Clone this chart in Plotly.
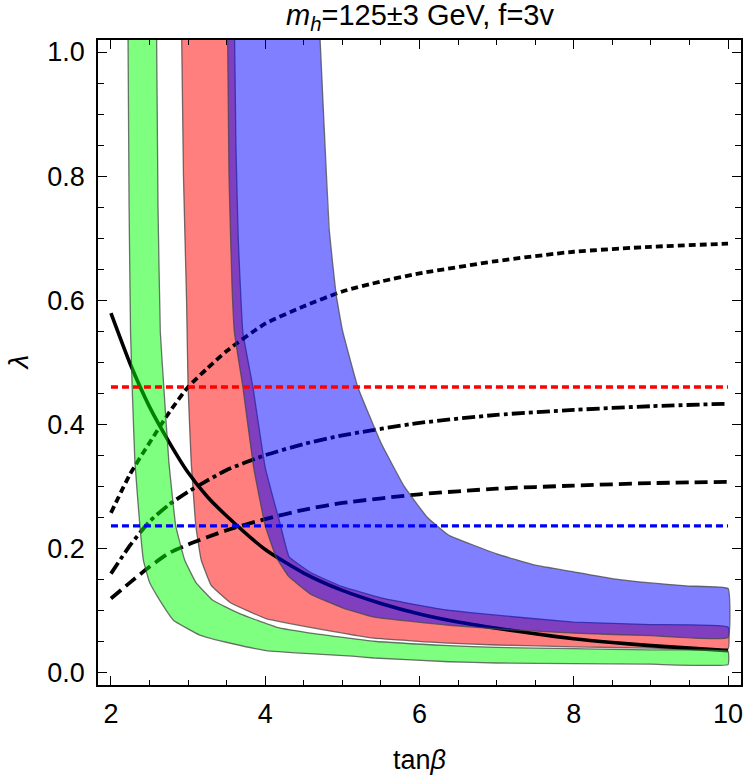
import plotly.graph_objects as go

# ---------------- data ----------------
# black solid curve
solid_x = [2.0, 2.25, 2.5, 2.75, 3.0, 3.25, 3.5, 4.0, 4.5, 5.0, 5.5, 6.0, 6.5, 7.0, 7.5, 8.0, 8.5, 9.0, 9.5, 10.0]
solid_y = [0.579, 0.497, 0.428, 0.372, 0.322, 0.283, 0.252, 0.198, 0.160, 0.132, 0.111, 0.094, 0.081, 0.071, 0.062, 0.054, 0.048, 0.043, 0.039, 0.035]

# black dotted curve
dot_x = [2.0, 2.25, 2.5, 2.75, 3.0, 3.25, 3.5, 4.0, 4.5, 5.0, 5.5, 6.0, 7.0, 8.0, 9.0, 10.0]
dot_y = [0.257, 0.320, 0.370, 0.418, 0.460, 0.490, 0.518, 0.562, 0.590, 0.614, 0.630, 0.643, 0.663, 0.678, 0.686, 0.691]

# black dash-dot curve
dd_x = [2.0, 2.25, 2.5, 2.75, 3.0, 3.5, 4.0, 4.5, 5.0, 6.0, 7.0, 8.0, 9.0, 10.0]
dd_y = [0.159, 0.205, 0.243, 0.270, 0.291, 0.326, 0.350, 0.368, 0.382, 0.402, 0.415, 0.423, 0.429, 0.433]

# black dashed curve
dash_x = [2.0, 2.25, 2.5, 2.75, 3.0, 3.5, 4.0, 4.5, 5.0, 6.0, 7.0, 8.0, 9.0, 10.0]
dash_y = [0.119, 0.145, 0.170, 0.192, 0.206, 0.229, 0.247, 0.262, 0.273, 0.287, 0.296, 0.301, 0.305, 0.307]

# horizontal reference lines
hline_x = [2.0, 10.0]
red_level = 0.460
blue_level = 0.236

# green band: inner (lower-left) and outer (upper-right) edges
green_in_x = [2.22, 2.235, 2.254, 2.275, 2.31, 2.375, 2.42, 2.50, 2.633, 2.81, 3.15, 3.58, 4.01, 4.57, 5.13, 5.41, 6.38, 7.0, 8.0, 9.0, 10.0]
green_in_y = [1.05, 0.75, 0.548, 0.46, 0.34, 0.236, 0.181, 0.145, 0.116, 0.084, 0.060, 0.046, 0.035, 0.030, 0.026, 0.023, 0.017, 0.015, 0.014, 0.013, 0.0124]
green_out_x = [2.59, 2.61, 2.64, 2.685, 2.75, 2.84, 2.956, 3.10, 3.32, 3.667, 4.14, 4.66, 5.41, 6.38, 7.0, 8.0, 9.0, 10.0]
green_out_y = [1.05, 0.75, 0.548, 0.46, 0.34, 0.236, 0.181, 0.145, 0.116, 0.0946, 0.073, 0.062, 0.050, 0.043, 0.040, 0.038, 0.036, 0.034]

# red band
red_in_x = [2.914, 2.94, 2.98, 3.0, 3.04, 3.10, 3.17, 3.30, 3.55, 4.01, 4.87, 5.41, 6.38, 7.0, 8.0, 9.0, 10.0]
red_in_y = [1.05, 0.80, 0.60, 0.46, 0.34, 0.236, 0.181, 0.140, 0.112, 0.0866, 0.066, 0.055, 0.047, 0.044, 0.041, 0.039, 0.038]
red_out_x = [3.60, 3.62, 3.65, 3.71, 3.84, 4.0, 4.2, 4.31, 4.6, 5.0, 5.5, 6.0, 6.38, 7.0, 8.0, 9.0, 10.0]
red_out_y = [1.05, 0.85, 0.70, 0.548, 0.46, 0.33, 0.236, 0.186, 0.160, 0.138, 0.120, 0.108, 0.100, 0.092, 0.081, 0.077, 0.073]

# blue band
blue_in_x = [3.51, 3.53, 3.57, 3.60, 3.71, 3.85, 4.0, 4.14, 4.3, 4.6, 5.0, 5.41, 6.38, 7.0, 8.0, 9.0, 10.0]
blue_in_y = [1.05, 0.80, 0.62, 0.548, 0.46, 0.33, 0.236, 0.186, 0.155, 0.125, 0.104, 0.089, 0.0758, 0.070, 0.063, 0.059, 0.056]
blue_out_x = [4.70, 4.766, 4.83, 4.917, 5.0, 5.2, 5.5, 5.8, 6.1, 6.38, 7.0, 7.5, 8.0, 8.5, 9.0, 9.5, 10.0]
blue_out_y = [1.05, 0.874, 0.713, 0.611, 0.552, 0.46, 0.37, 0.30, 0.25, 0.221, 0.191, 0.1726, 0.162, 0.151, 0.144, 0.139, 0.135]

x_ticks = [2, 4, 6, 8, 10]
y_ticks = [0.0, 0.2, 0.4, 0.6, 0.8, 1.0]

# ---------------- figure ----------------
FONT = "Liberation Sans, Arial, sans-serif"
fig = go.Figure()

def curve(x, y, dash, width=3.2):
    fig.add_trace(go.Scatter(x=x, y=y, mode="lines", line=dict(color="black", width=width, dash=dash, shape="spline", smoothing=0.6), hoverinfo="skip"))

def band(xi, yi, xo, yo, color):
    fig.add_trace(go.Scatter(x=list(xi) + list(reversed(xo)), y=list(yi) + list(reversed(yo)),
                             mode="lines", fill="toself", fillcolor=color,
                             line=dict(color="rgba(70,70,70,0.75)", width=1.3, shape="spline", smoothing=0.3),
                             hoverinfo="skip"))

# red band sits beneath the black curves, green and blue bands above them
band(red_in_x, red_in_y, red_out_x, red_out_y, "rgba(255,0,0,0.5)")

curve(solid_x, solid_y, "solid", 3.6)
curve(dot_x, dot_y, "7px,4px", 3.8)
curve(dd_x, dd_y, "13px,4px,4px,4px", 3.8)
curve(dash_x, dash_y, "13px,6px", 3.8)

band(green_in_x, green_in_y, green_out_x, green_out_y, "rgba(0,255,0,0.5)")
band(blue_in_x, blue_in_y, blue_out_x, blue_out_y, "rgba(0,0,255,0.5)")

fig.add_trace(go.Scatter(x=hline_x, y=[red_level] * 2, mode="lines", line=dict(color="red", width=3.4, dash="7px,4px"), hoverinfo="skip"))
fig.add_trace(go.Scatter(x=hline_x, y=[blue_level] * 2, mode="lines", line=dict(color="blue", width=3.4, dash="7px,4px"), hoverinfo="skip"))

axis_common = dict(showgrid=False, zeroline=False, showline=True, linecolor="black", linewidth=1.6,
                   mirror="allticks", ticks="inside", tickcolor="black", tickwidth=1.3,
                   tickfont=dict(family=FONT, size=27, color="black"))

fig.update_xaxes(range=[1.832, 10.168], tickvals=x_ticks, ticklen=9,
                 minor=dict(dtick=0.5, ticklen=5, ticks="inside", tickcolor="black", tickwidth=1.2),
                 ticklabelstandoff=4, **axis_common)
fig.update_yaxes(range=[-0.0205, 1.0194], tickvals=y_ticks, tickformat=".1f", ticklen=9,
                 minor=dict(dtick=0.05, ticklen=6, ticks="inside", tickcolor="black", tickwidth=1.2),
                 ticklabelstandoff=6, **axis_common)

fig.update_layout(
    width=750, height=778,
    margin=dict(l=98, r=7, t=40, b=93),
    paper_bgcolor="white", plot_bgcolor="white",
    showlegend=False,
    annotations=[
        dict(text="<i>m</i><sub><i>h</i></sub>=125±3 GeV, f=3v", xref="paper", yref="paper",
             x=0.5, y=1.0, yshift=3, xanchor="center", yanchor="bottom", showarrow=False,
             font=dict(family=FONT, size=29, color="black")),
        dict(text="tan<i>β</i>", xref="paper", yref="paper", x=0.5, y=0, yshift=-58,
             xanchor="center", yanchor="top", showarrow=False,
             font=dict(family=FONT, size=27, color="black")),
        dict(text="<i>λ</i>", xref="paper", yref="paper", x=0, xshift=-80, y=0.5,
             xanchor="center", yanchor="middle", showarrow=False, textangle=-90,
             font=dict(family=FONT, size=28, color="black")),
    ],
)

fig.write_html("out.html")
